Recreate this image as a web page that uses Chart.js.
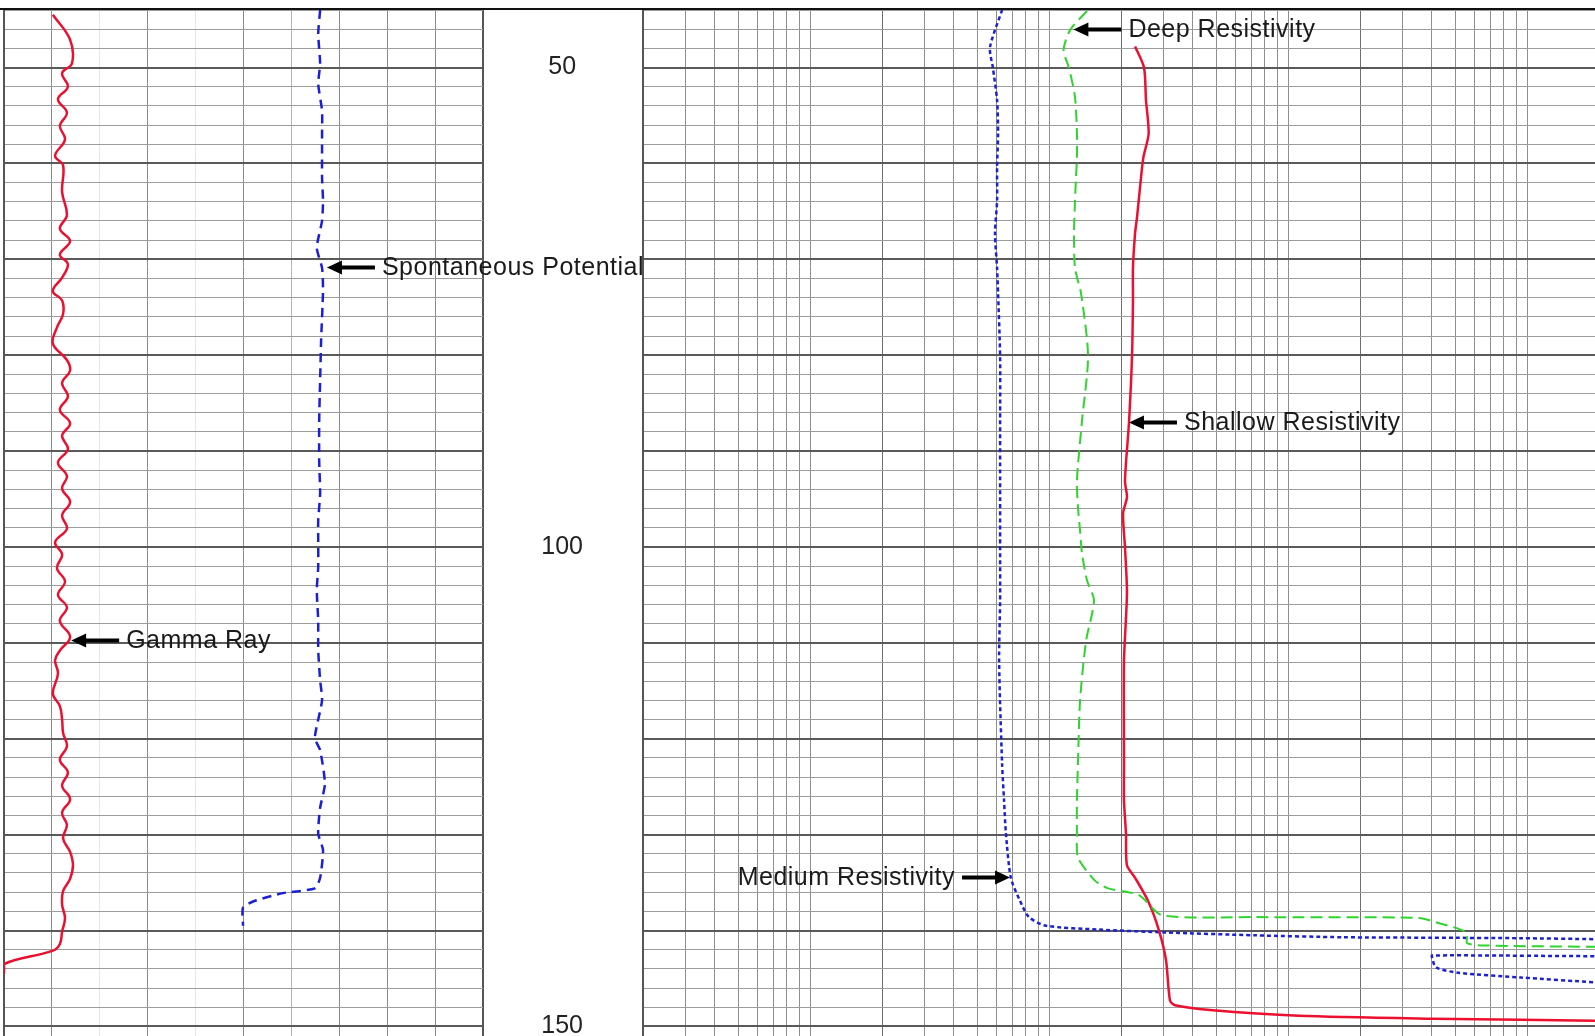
<!DOCTYPE html>
<html>
<head>
<meta charset="utf-8">
<script src="https://cdn.jsdelivr.net/npm/chart.js@4.4.1/dist/chart.umd.min.js"></script>
<style>
html,body{margin:0;padding:0;background:#fff;overflow:hidden;}
#wrap{position:relative;width:1595px;height:1036px;background:#fff;}
#wrap canvas{position:absolute;left:0;top:0;}
#topRule{position:absolute;left:0;top:8px;width:1595px;height:2px;background:#111;}
</style>
</head>
<body>
<div id="wrap">
  <canvas id="leftTrack" width="1595" height="1036"></canvas>
  <canvas id="rightTrack" width="1595" height="1036"></canvas>
  <div id="topRule"></div>
</div>
<script>
// ---------------- DATA ----------------
const depthLabels = [50, 100, 150];

// Gamma Ray (left track, linear 0-150)
const grDepth = [44.5,47.1,49.55,50.6,52.0,53.3,54.7,56.1,57.5,59.2,60.2,63.0,65.4,66.8,68.1,69.5,70.5,71.9,73.3,74.3,75.7,77.1,78.8,80.5,81.6,82.9,84.3,85.7,87.1,88.4,89.8,91.2,92.6,93.9,95.3,96.7,98.1,99.5,100.8,102.2,103.6,105.0,106.3,107.7,109.4,110.8,111.8,113.2,115.3,116.6,118.0,119.4,120.8,122.2,123.5,124.9,126.3,127.7,129.0,130.4,131.8,133.2,134.6,135.9,137.3,138.7,140.1,141.4,142.1,143.5,144.5];
const grValue = [15.3,20.7,21.3,18.2,20.0,16.9,19.7,17.5,19.1,16.0,18.5,18.2,19.7,17.5,20.7,17.5,20.0,18.2,15.3,18.2,18.5,16.6,15.3,19.7,20.7,18.2,20.0,17.5,20.7,18.2,20.0,16.9,19.7,18.2,20.7,18.2,19.7,16.0,18.2,16.6,19.1,16.9,19.7,17.5,20.7,17.5,16.0,16.9,15.3,17.5,18.2,18.5,19.7,17.5,20.0,18.2,20.7,18.2,19.7,18.5,20.7,21.6,20.7,18.5,18.2,19.1,18.2,17.5,15.3,0.0,0.0];

// Spontaneous Potential (left track, -100..0 mV)
const spDepth = [44.0,46.5,49.6,51.7,54.5,56.9,59.0,61.5,63.9,66.0,68.8,70.9,73.3,78.5,82.6,86.8,91.0,94.4,97.2,99.3,102.1,104.5,107.7,110.8,113.9,116.0,119.9,121.2,124.7,127.2,129.9,131.6,134.5,135.6,136.1,136.9,137.6,139.5];
const spValue = [-34.0,-34.4,-34.0,-34.4,-33.6,-33.6,-33.6,-33.6,-33.4,-33.6,-34.7,-33.6,-33.4,-33.8,-34.0,-34.2,-34.2,-34.0,-34.4,-34.4,-34.4,-34.7,-34.4,-34.4,-34.0,-33.6,-35.1,-34.0,-33.0,-34.0,-34.4,-33.4,-34.0,-35.1,-41.8,-47.6,-50.1,-50.1];

// Deep Resistivity (right track, log ohm-m)
const deepDepth = [44.1,46.1,48.2,50.0,53.1,56.9,59.4,61.5,63.9,67.3,70.9,73.6,80.1,86.8,93.1,95.9,98.3,100.7,103.5,105.6,109.8,116.0,122.3,126.4,129.9,132.4,134.8,135.6,136.3,138.4,138.6,138.7,139.3,139.8,140.3,141.3,141.55,141.7,141.75];
const deepValue = [72.1,61.2,57.5,60.5,64.2,65.4,65.4,64.8,64.2,63.6,64.2,68.1,72.8,68.7,65.4,66.1,67.4,68.7,72.1,77.1,71.4,67.4,66.1,65.4,65.4,66.1,77.8,88.2,118.9,148.4,363.6,1766,2183,2570,2804,2804,3209,9623,20000];

// Shallow Resistivity
const shallowDepth = [47.8,50.0,53.4,56.9,59.4,62.5,65.6,67.3,70.9,74.3,80.1,87.0,93.1,94.8,96.5,100.0,104.8,111.9,122.6,126.4,129.9,133.2,134.5,136.9,140.0,143.1,147.3,147.8,148.3,148.9,149.2,149.3,149.4,149.45];
const shallowValue = [114.5,124.8,127.2,130.5,124.0,120.1,116.7,114.5,112.2,112.2,111.2,108.0,103.9,105.9,102.0,103.9,105.9,102.9,102.9,102.9,104.9,105.9,114.5,129.7,144.2,154.3,160.3,168.2,235.7,555.5,2001,4717,9623,20000];

// Medium Resistivity
const mediumDepth = [44.0,47.9,50.0,53.4,56.9,60.4,63.9,67.3,70.9,73.6,80.1,86.8,93.1,100.0,105.6,111.9,122.6,126.4,129.9,134.5,136.9,138.6,139.5,139.9,140.2,140.5,140.7,140.75,140.8,140.9,141.0,142.5,142.6,142.8,143.85,144.4,144.9,145.4,145.8];
const mediumValue = [31.8,28.3,29.1,30.3,30.6,30.3,30.3,29.7,30.3,30.6,31.2,31.2,31.2,31.2,31.2,30.9,31.8,32.4,33.0,34.6,37.8,41.2,48.6,80.9,154,364,849,2001,4717,9623,30000,30000,2001,2001,2080,2570,4717,9623,20000];

// Curve labels (anchored on a curve point: depth + value on that curve's axis)
const labelText  = ['Gamma Ray','Spontaneous Potential','Deep Resistivity','Shallow Resistivity','Medium Resistivity'];
const labelDepth = [109.75, 70.86, 46.04, 87.02, 134.46];
const labelValue = [20.4, -33.0, 62.0, 105.9, 35.0];
const labelAxis  = ['gr','sp','res','res','res'];
const labelSide  = ['right','right','right','right','left'];

// Axis ranges / grid
const depthMin = 44, depthMax = 151;
const grMin = 0, grMax = 150;
const spMin = -100, spMax = 0;
const resMin = 1, resMax = 9620;
const resDecades = [1, 10, 100, 1000];
const resMantissas = [1, 1.5, 2, 2.5, 3, 3.5, 4, 4.5, 5];
const resGridTicks = resDecades.flatMap(d => resMantissas.map(m => m * d));

// ---------------- HELPERS ----------------
const pts = (ds, vs) => ds.map((d, i) => ({x: vs[i], y: d}));
const FONT = '"Liberation Sans", Arial, Helvetica, sans-serif';

const curveLabelPlugin = {
  id: 'curveLabels',
  afterDatasetsDraw(chart, args, opts) {
    const ctx = chart.ctx;
    const yScale = chart.scales.y;
    ctx.save();
    (opts.items || []).forEach(it => {
      const xs = chart.scales[it.axis];
      const px = xs.getPixelForValue(it.value);
      const py = yScale.getPixelForValue(it.depth);
      const dir = it.side === 'right' ? 1 : -1;
      const tip = px + dir * 2;
      const tail = px + dir * 50;
      ctx.strokeStyle = '#000';
      ctx.lineWidth = 4;
      ctx.beginPath();
      ctx.moveTo(tip + dir * 12, py);
      ctx.lineTo(tail, py);
      ctx.stroke();
      ctx.fillStyle = '#000';
      ctx.beginPath();
      ctx.moveTo(tip, py);
      ctx.lineTo(tip + dir * 15, py - 7);
      ctx.lineTo(tip + dir * 15, py + 7);
      ctx.closePath();
      ctx.fill();
      ctx.font = '25px ' + FONT;
      if ('letterSpacing' in ctx) ctx.letterSpacing = '0.5px';
      ctx.fillStyle = '#1a1a1a';
      ctx.textBaseline = 'middle';
      ctx.textAlign = dir > 0 ? 'left' : 'right';
      ctx.fillText(it.text, tail + dir * 7, py + 1);
    });
    ctx.restore();
  }
};

const labelsFor = axes => labelText.map((t, i) => ({
  text: t, depth: labelDepth[i], value: labelValue[i], axis: labelAxis[i], side: labelSide[i]
})).filter(o => axes.includes(o.axis));

const depthGridColor = c => (c.tick && c.tick.value % 10 === 0) ? '#5a5a5a' : '#9c9c9c';
const depthGridWidth = c => (c.tick && c.tick.value % 10 === 0) ? 2 : 1;
const noPad = s => { s.paddingTop = 0; s.paddingBottom = 0; s.paddingLeft = 0; s.paddingRight = 0; };

// ---------------- LEFT TRACK ----------------
new Chart(document.getElementById('leftTrack'), {
  type: 'line',
  data: {
    datasets: [
      { label: 'Gamma Ray', data: pts(grDepth, grValue), xAxisID: 'gr', yAxisID: 'y',
        borderColor: '#ec1030', borderWidth: 2.5, pointRadius: 0, tension: 0.4, fill: false },
      { label: 'Spontaneous Potential', data: pts(spDepth, spValue), xAxisID: 'sp', yAxisID: 'y',
        borderColor: '#1c20d4', borderWidth: 2.5, borderDash: [9, 6], pointRadius: 0, tension: 0.2, fill: false }
    ]
  },
  options: {
    responsive: false, animation: false, indexAxis: 'y',
    layout: { padding: { left: 4, top: 10, right: 1112, bottom: 0 } },
    plugins: { legend: { display: false }, tooltip: { enabled: false }, curveLabels: { items: labelsFor(['gr','sp']) } },
    scales: {
      gr: { axis: 'x', type: 'linear', position: 'bottom', min: grMin, max: grMax,
        ticks: { display: false, stepSize: 15 },
        grid: { drawTicks: false,
          color: c => { const i = c.index; if (i === 0 || i === 10) return '#555'; if (i === 2 || i === 4) return '#e6e6e6'; if (i === 6) return '#b4b4b4'; return '#8a8a8a'; },
          lineWidth: c => (c.index === 0 || c.index === 10) ? 2 : 1 },
        border: { display: false },
        afterFit(s) { s.height = 0; noPad(s); } },
      sp: { axis: 'x', type: 'linear', display: false, min: spMin, max: spMax },
      y: { axis: 'y', type: 'linear', position: 'left', reverse: true, min: depthMin, max: depthMax,
        ticks: { display: false, stepSize: 2, includeBounds: false },
        grid: { drawTicks: false, color: depthGridColor, lineWidth: depthGridWidth },
        border: { display: true, color: '#555', width: 2 },
        afterFit(s) { s.width = 0; noPad(s); } }
    }
  },
  plugins: [curveLabelPlugin]
});

// ---------------- RIGHT TRACK (with depth labels) ----------------
new Chart(document.getElementById('rightTrack'), {
  type: 'line',
  data: {
    datasets: [
      { label: 'Deep Resistivity', data: pts(deepDepth, deepValue), xAxisID: 'res', yAxisID: 'y',
        borderColor: '#2fd42f', borderWidth: 2, borderDash: [12, 6], pointRadius: 0, tension: 0.25, fill: false },
      { label: 'Shallow Resistivity', data: pts(shallowDepth, shallowValue), xAxisID: 'res', yAxisID: 'y',
        borderColor: '#ec1030', borderWidth: 2.5, pointRadius: 0, tension: 0.25, fill: false },
      { label: 'Medium Resistivity', data: pts(mediumDepth, mediumValue), xAxisID: 'res', yAxisID: 'y',
        borderColor: '#1c20d4', borderWidth: 2.5, borderDash: [4, 3], pointRadius: 0, tension: 0.25, fill: false }
    ]
  },
  options: {
    responsive: false, animation: false, indexAxis: 'y',
    layout: { padding: { left: 483, top: 10, right: 0, bottom: 0 } },
    plugins: { legend: { display: false }, tooltip: { enabled: false }, curveLabels: { items: labelsFor(['res']) } },
    scales: {
      res: { axis: 'x', type: 'logarithmic', position: 'bottom', min: resMin, max: resMax,
        afterBuildTicks(s) { s.ticks = resGridTicks.map(v => ({ value: v })); },
        ticks: { display: false },
        grid: { drawTicks: false,
          color: c => (c.tick && [1,10,100,1000].includes(c.tick.value)) ? '#6e6e6e' : '#8e8e8e',
          lineWidth: 1 },
        border: { display: false },
        afterFit(s) { s.height = 0; noPad(s); } },
      y: { axis: 'y', type: 'linear', position: 'left', reverse: true, min: depthMin, max: depthMax,
        afterBuildTicks(s) { s.ticks = depthLabels.map(v => ({ value: v })); },
        ticks: { font: { family: FONT, size: 25 }, color: '#222', crossAlign: 'center', padding: 60,
                 autoSkip: false, callback: v => String(v) },
        grid: { display: false, drawTicks: false },
        border: { display: true, color: '#555', width: 2 },
        afterFit(s) { s.width = 160; noPad(s); } },
      yGrid: { axis: 'y', type: 'linear', position: 'right', reverse: true, min: depthMin, max: depthMax,
        ticks: { display: false, stepSize: 2, includeBounds: false },
        grid: { drawTicks: false, color: depthGridColor, lineWidth: depthGridWidth },
        border: { display: false },
        afterFit(s) { s.width = 0; noPad(s); } }
    }
  },
  plugins: [curveLabelPlugin]
});
</script>
</body>
</html>
